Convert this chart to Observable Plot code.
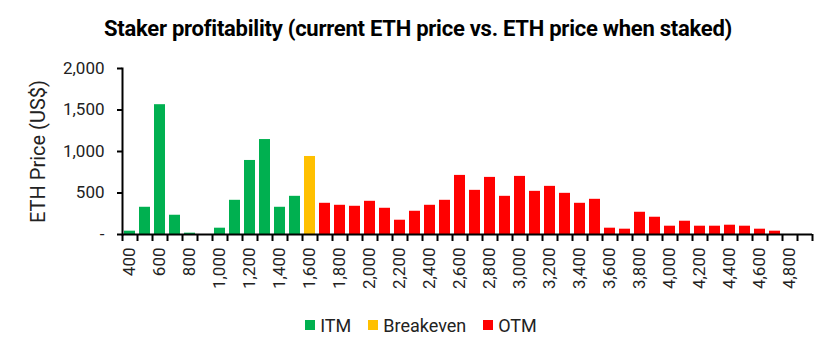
<!DOCTYPE html>
<html>
<head>
<meta charset="utf-8">
<script src="https://cdn.jsdelivr.net/npm/d3@7"></script>
<script src="https://cdn.jsdelivr.net/npm/@observablehq/plot@0.6"></script>
<style>
  html, body { margin: 0; padding: 0; background: #fff; }
  body { width: 836px; font-family: Roboto, "Noto Sans", sans-serif; }
  #title { height: 50px; line-height: 58px; text-align: center; font-weight: bold; font-size: 22px; color: #000; letter-spacing: -0.25px; white-space: nowrap; }
  #legend { height: 20px; display: flex; justify-content: center; align-items: center; font-size: 18px; color: #222; gap: 17px; padding-left: 6px; }
  #legend span.item { display: flex; align-items: center; }
  #legend span.sw { width: 10px; height: 10px; display: inline-block; margin-right: 5px; }
</style>
</head>
<body>
<div id="title">Staker profitability (current ETH price vs. ETH price when staked)</div>
<div id="chart"></div>
<div id="legend"></div>
<script>
// ETH price bucket (US$)
const prices = [400, 500, 600, 700, 800, 900, 1000, 1100, 1200, 1300, 1400, 1500, 1600, 1700, 1800, 1900, 2000, 2100, 2200, 2300, 2400, 2500, 2600, 2700, 2800, 2900, 3000, 3100, 3200, 3300, 3400, 3500, 3600, 3700, 3800, 3900, 4000, 4100, 4200, 4300, 4400, 4500, 4600, 4700, 4800, 4900];
// bar values (ETH price, US$)
const values = [40, 328, 1564, 232, 16, 0, 76, 412, 892, 1144, 328, 460, 940, 376, 352, 340, 400, 316, 172, 280, 352, 412, 712, 532, 688, 460, 700, 520, 580, 496, 376, 424, 76, 64, 268, 208, 100, 160, 100, 100, 112, 100, 64, 40, 0, 0];
const breakevenPrice = 1600;
const categories = ["ITM", "Breakeven", "OTM"];
const colors = ["#00B050", "#FFC000", "#FF0000"];
const xTickLabels = [400, 600, 800, 1000, 1200, 1400, 1600, 1800, 2000, 2200, 2400, 2600, 2800, 3000, 3200, 3400, 3600, 3800, 4000, 4200, 4400, 4600, 4800];
const yTicks = [0, 500, 1000, 1500, 2000];

const data = prices.map((p, i) => ({
  price: p,
  value: values[i],
  status: p < breakevenPrice ? "ITM" : (p === breakevenPrice ? "Breakeven" : "OTM")
}));

const fmt = d3.format(",");
const chart = Plot.plot({
  width: 836,
  height: 265,
  marginTop: 18,
  marginBottom: 81,
  marginLeft: 122,
  marginRight: 24,
  style: { fontFamily: "Roboto, sans-serif", fontSize: "17px", color: "#222", background: "#fff" },
  x: { type: "band", domain: prices, paddingInner: 0.27, paddingOuter: 0.135 },
  y: { domain: [0, 2000] },
  color: { domain: categories, range: colors },
  marks: [
    Plot.barY(data, { x: "price", y: "value", fill: "status" }),
    Plot.ruleY([0], { stroke: "#000", strokeWidth: 2 }),
    Plot.frame({ anchor: "left", stroke: "#000", strokeWidth: 2 }),
    Plot.ruleX(prices, { x: d => d, y1: 0, y2: 0, dx: -7.5, insetBottom: -7, stroke: "#000", strokeWidth: 2 }),
    Plot.ruleX(prices.slice(-1), { x: d => d, y1: 0, y2: 0, dx: 7.5, insetBottom: -7, stroke: "#000", strokeWidth: 2 }),
    Plot.axisY({
      ticks: yTicks,
      tickSize: 5,
      tickPadding: 13,
      stroke: "#000",
      strokeWidth: 2,
      tickFormat: d => d === 0 ? "-" : fmt(d),
      label: null,
      fontSize: 17
    }),
    Plot.axisY({
      ticks: [],
      tickSize: 0,
      label: "ETH Price (US$)",
      labelAnchor: "center",
      labelArrow: "none",
      labelOffset: 92,
      fontSize: 20
    }),
    Plot.axisX({
      ticks: xTickLabels,
      tickSize: 0,
      tickPadding: 13,
      tickRotate: -90,
      tickFormat: fmt,
      label: null,
      fontSize: 17
    })
  ]
});
document.getElementById("chart").appendChild(chart);

// legend
const legend = document.getElementById("legend");
categories.forEach((c, i) => {
  const item = document.createElement("span");
  item.className = "item";
  const sw = document.createElement("span");
  sw.className = "sw";
  sw.style.background = colors[i];
  item.appendChild(sw);
  item.appendChild(document.createTextNode(c));
  legend.appendChild(item);
});
</script>
</body>
</html>
